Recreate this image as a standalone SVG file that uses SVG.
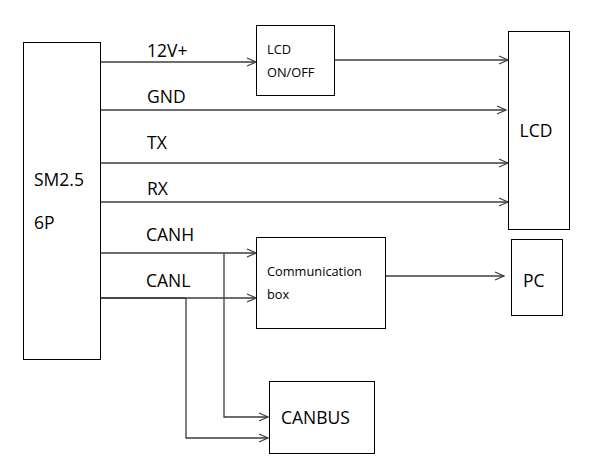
<svg xmlns="http://www.w3.org/2000/svg" width="590" height="462" viewBox="0 0 590 462">
<style>
.box{fill:#fff;stroke:#000;stroke-width:1}
.t{font-family:"Open Sans","Noto Sans","Liberation Sans",sans-serif;fill:#000}
.big{font-size:17.5px}
.sm{font-size:12.8px}
.c{fill:none;stroke:#3c3c3c;stroke-width:1.3}
</style>
<defs>
<marker id="ah" markerWidth="12" markerHeight="10" refX="10" refY="5" orient="auto" markerUnits="userSpaceOnUse">
<path d="M1,1 L10,5 L1,9" fill="none" stroke="#3c3c3c" stroke-width="1.2"/>
</marker>
</defs>
<rect width="590" height="462" fill="#fff"/>
<g id="connectors">
<line class="c" x1="101" y1="62" x2="256" y2="62" marker-end="url(#ah)"/>
<line class="c" x1="335" y1="60" x2="508" y2="60" marker-end="url(#ah)"/>
<line class="c" x1="101" y1="110" x2="506" y2="110" marker-end="url(#ah)"/>
<line class="c" x1="98" y1="163" x2="508" y2="163" marker-end="url(#ah)"/>
<line class="c" x1="101" y1="202" x2="508" y2="202" marker-end="url(#ah)"/>
<line class="c" x1="101" y1="253" x2="256" y2="253" marker-end="url(#ah)"/>
<line class="c" x1="101" y1="298" x2="256" y2="298" marker-end="url(#ah)"/>
<line class="c" x1="101" y1="298" x2="186" y2="298" stroke-width="2.2"/>
<polyline class="c" points="224,253 224,417 268,417" marker-end="url(#ah)"/>
<polyline class="c" points="186,298 186,438 268,438" marker-end="url(#ah)"/>
<line class="c" x1="386" y1="276" x2="504" y2="276" marker-end="url(#ah)"/>
</g>
<g id="labels">
<text class="t big" x="147" y="57">12V+</text>
<text class="t big" x="147" y="103">GND</text>
<text class="t big" x="147" y="149">TX</text>
<text class="t big" x="147" y="195">RX</text>
<text class="t big" x="146" y="241">CANH</text>
<text class="t big" x="146" y="287">CANL</text>
</g>
<g id="sm25">
<rect class="box" x="23.5" y="42.5" width="77" height="317"/>
<text class="t big" x="34" y="186">SM2.5</text>
<text class="t big" x="34" y="229">6P</text>
</g>
<g id="lcd-onoff">
<rect class="box" x="256.5" y="25.5" width="78" height="70"/>
<text class="t sm" x="267" y="54">LCD</text>
<text class="t sm" x="267" y="77">ON/OFF</text>
</g>
<g id="lcd">
<rect class="box" x="508.5" y="31.5" width="61" height="198"/>
<text class="t big" x="536" y="137" text-anchor="middle">LCD</text>
</g>
<g id="commbox">
<rect class="box" x="256.5" y="237.5" width="129" height="91"/>
<text class="t sm" x="267" y="276">Communication</text>
<text class="t sm" x="267" y="299">box</text>
</g>
<g id="pc">
<rect class="box" x="511.5" y="239.5" width="51" height="76"/>
<text class="t big" x="523" y="287">PC</text>
</g>
<g id="canbus">
<rect class="box" x="269.5" y="381.5" width="105" height="72"/>
<text class="t big" x="281" y="424">CANBUS</text>
</g>
</svg>
